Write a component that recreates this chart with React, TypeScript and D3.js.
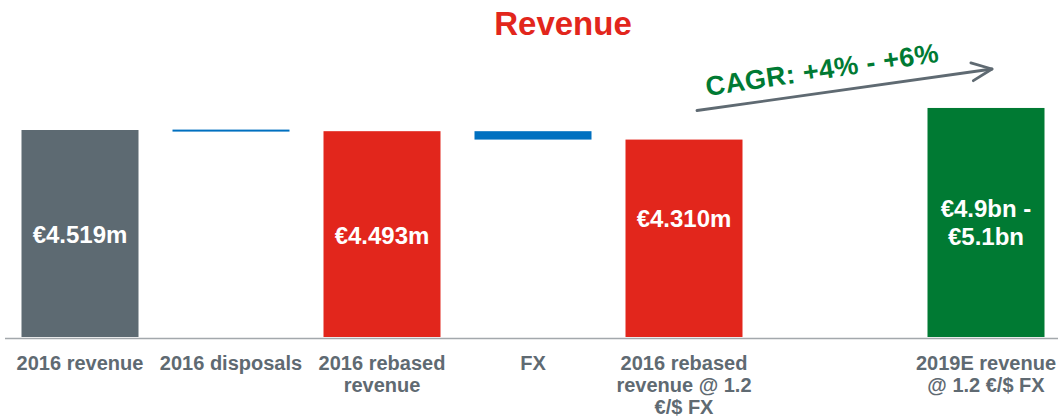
import React from "react";
import * as d3 from "d3";

const categories = [
  ["2016 revenue"],
  ["2016 disposals"],
  ["2016 rebased", "revenue"],
  ["FX"],
  ["2016 rebased", "revenue @ 1.2", "€/$ FX"],
  [""],
  ["2019E revenue", "@ 1.2 €/$ FX"],
];
const keys = ["rev16", "disp", "rebased", "fx", "rebasedFx", "gap", "rev19"];
// waterfall: [start, end]
const barStart = [0, 4519, 0, 4493, 0, null, 0];
const barEnd = [4519, 4493, 4493, 4310, 4310, null, 5000];
const barKind = ["total", "delta", "sub", "delta", "sub", null, "target"];
const valueLabels = [["€4.519m"], [], ["€4.493m"], [], ["€4.310m"], [], ["€4.9bn -", "€5.1bn"]];
const labelBaseline = [243, 0, 244, 0, 227, 0, 217];
const title = "Revenue";
const cagrText = "CAGR: +4% - +6%";

const colors: Record<string, string> = {
  total: "#5d6a72",
  delta: "#0070c0",
  sub: "#e2261c",
  target: "#007a33",
};

const W = 1058;
const H = 417;
const FONT = "Liberation Sans, Arial, Helvetica, sans-serif";

export default function App() {
  const x = d3
    .scaleBand<string>()
    .domain(keys)
    .range([4.5, 4.5 + 151 * keys.length])
    .paddingInner(34 / 151)
    .paddingOuter(17 / 151);
  const y = d3.scaleLinear().domain([0, 7357]).range([337, 0]);
  const bw = x.bandwidth();

  const cx = (i: number) => (x(keys[i]) as number) + bw / 2;
  // arrow annotation
  const ax1 = cx(4) + 13;
  const ay1 = 110.5;
  const ax2 = cx(6) + 6;
  const ay2 = 69;
  const ang = Math.atan2(ay2 - ay1, ax2 - ax1);
  const headLen = 22;
  const headAng = 0.42;
  const h1 = [ax2 - headLen * Math.cos(ang - headAng), ay2 - headLen * Math.sin(ang - headAng)];
  const h2 = [ax2 - headLen * Math.cos(ang + headAng), ay2 - headLen * Math.sin(ang + headAng)];
  const textAngle = -8.4;

  return (
    <svg
      width={W}
      height={H}
      style={{ position: "absolute", left: 0, top: 0, background: "#fff" }}
      fontFamily={FONT}
    >
      <text x={563} y={35} textAnchor="middle" fontSize={33} fontWeight="bold" fill="#e2261c">
        {title}
      </text>

      {keys.map((k, i) => {
        if (barStart[i] === null) return null;
        const s = barStart[i] as number;
        const e = barEnd[i] as number;
        const top = Math.min(y(s), y(e));
        const bot = Math.max(y(s), y(e));
        let h = bot - top;
        let yy = top;
        if (h < 2) {
          yy = (top + bot) / 2 - 1;
          h = 2;
        }
        return (
          <rect key={k} x={x(k)} y={yy} width={bw} height={h} fill={colors[barKind[i] as string]} />
        );
      })}

      <line x1={5} x2={W} y1={338.5} y2={338.5} stroke="#a3a8ac" strokeWidth={1.5} />

      {valueLabels.map((lines, i) =>
        lines.length ? (
          <text
            key={"v" + i}
            x={cx(i)}
            y={labelBaseline[i]}
            textAnchor="middle"
            fontSize={24}
            fontWeight="bold"
            fill="#ffffff"
          >
            {lines.map((t, j) => (
              <tspan key={j} x={cx(i)} dy={j === 0 ? 0 : 28}>
                {t}
              </tspan>
            ))}
          </text>
        ) : null
      )}

      {categories.map((lines, i) => (
        <text
          key={"c" + i}
          x={cx(i)}
          y={370}
          textAnchor="middle"
          fontSize={20}
          fontWeight="bold"
          fill="#5f6a72"
        >
          {lines.map((t, j) => (
            <tspan key={j} x={cx(i)} dy={j === 0 ? 0 : 22}>
              {t}
            </tspan>
          ))}
        </text>
      ))}

      <g stroke="#5f6a72" strokeWidth={2.8} fill="none" strokeLinecap="round" strokeLinejoin="round">
        <line x1={ax1} y1={ay1} x2={ax2} y2={ay2} />
        <polyline points={`${h1[0]},${h1[1]} ${ax2},${ay2} ${h2[0]},${h2[1]}`} />
      </g>

      <text
        transform={`translate(707,96) rotate(${textAngle})`}
        fontSize={27}
        fontWeight="bold"
        fill="#007a33"
        textLength={235}
        lengthAdjust="spacing"
      >
        {cagrText}
      </text>
    </svg>
  );
}
